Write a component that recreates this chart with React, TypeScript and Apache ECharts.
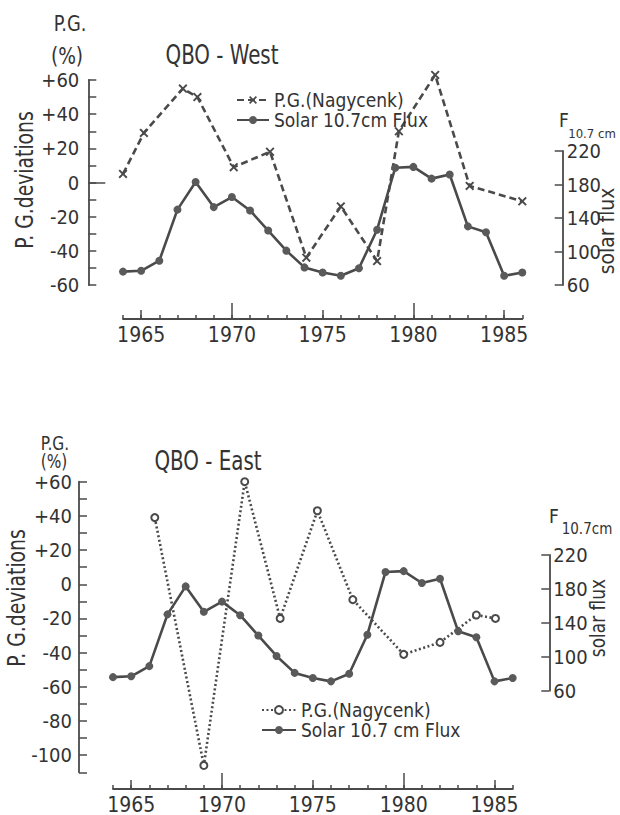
import React, { useEffect, useRef } from "react";
import * as echarts from "echarts";

// ---------- data ----------
const years = [1964, 1965, 1966, 1967, 1968, 1969, 1970, 1971, 1972, 1973, 1974, 1975, 1976, 1977, 1978, 1979, 1980, 1981, 1982, 1983, 1984, 1985, 1986];
const solarFlux = [76, 77, 89, 150, 183, 153, 165, 149, 125, 101, 81, 75, 71, 80, 126, 200, 201, 187, 192, 130, 123, 71, 75];

const westPGYears = [1964.0, 1965.15, 1967.3, 1968.1, 1970.1, 1972.1, 1974.1, 1976.0, 1978.0, 1979.2, 1981.2, 1983.1, 1986.0];
const westPG = [5, 29, 55, 50, 9, 18, -44, -14, -46, 30, 63, -2, -11];

const eastPGYears = [1966.3, 1969.0, 1971.25, 1973.2, 1975.25, 1977.2, 1980.0, 1982.0, 1984.0, 1985.05];
const eastPG = [39, -106, 60, -20, 43, -9, -41, -34, -18, -20];

const minorTickYears = years;
const midTickYears = [1965, 1975, 1985];
const longTickYears = [1970, 1980];
const labelYears = [1965, 1970, 1975, 1980, 1985];

const legendText: Record<string, string> = {
  pgWest: "P.G.(Nagycenk)",
  solarWest: "Solar 10.7cm Flux",
  pgEast: "P.G.(Nagycenk)",
  solarEast: "Solar 10.7 cm Flux",
};

const FONT = "'DejaVu Sans Condensed', 'Liberation Sans Narrow', 'Liberation Sans', sans-serif";
const INK = "#333";
const LINE = "#4a4a4a";
const CROSS = "path://M0,1.5L1.5,0L5,3.5L8.5,0L10,1.5L6.5,5L10,8.5L8.5,10L5,6.5L1.5,10L0,8.5L3.5,5Z";

function xAxes(gridIndex: number, offset: number) {
  const base = { type: "value", gridIndex, min: 1964, max: 1986, position: "bottom", offset, splitLine: { show: false } };
  return [
    {
      ...base,
      axisLine: { show: true, onZero: false, lineStyle: { color: LINE, width: 1.8 } },
      axisTick: { show: true, inside: true, length: 4, customValues: minorTickYears, lineStyle: { color: LINE, width: 1.5 } },
      axisLabel: { show: true, customValues: labelYears, formatter: (v: number) => String(v), margin: 5, fontSize: 21, fontFamily: FONT, color: INK },
    },
    {
      ...base,
      axisLine: { show: false, onZero: false },
      axisTick: { show: true, inside: true, length: 9, customValues: midTickYears, lineStyle: { color: LINE, width: 1.5 } },
      axisLabel: { show: false },
    },
    {
      ...base,
      axisLine: { show: false, onZero: false },
      axisTick: { show: true, inside: true, length: 16, customValues: longTickYears, lineStyle: { color: LINE, width: 1.5 } },
      axisLabel: { show: false },
    },
  ];
}

function hiddenX(gridIndex: number) {
  return { type: "value", gridIndex, min: 1964, max: 1986, show: false, axisLine: { onZero: false } };
}

const pgFormatter = (v: number) => (v % 20 !== 0 ? "" : v > 0 ? "+" + v : String(v));

function txt(text: string, x: number, y: number, size: number, extra: any = {}) {
  return {
    type: "text",
    x,
    y,
    ...extra,
    style: { text, fontSize: size, fontFamily: FONT, fill: INK, align: "center", verticalAlign: "middle" },
  };
}

export default function App() {
  const ref = useRef<HTMLDivElement>(null);
  useEffect(() => {
    if (!ref.current) return;
    const chart = echarts.init(ref.current, undefined, { renderer: "svg" });

    const option: any = {
      animation: false,
      backgroundColor: "#fff",
      grid: [
        { left: 123, right: 97.7, top: 80, height: 205 },
        { left: 123, right: 97.7, top: 151, height: 134 },
        { left: 113, right: 107.3, top: 481.7, height: 290.6 },
        { left: 113, right: 107.3, top: 555, height: 135.7 },
      ],
      xAxis: [...xAxes(0, 34), hiddenX(1), ...xAxes(2, 16.7), hiddenX(3)],
      yAxis: [
        {
          type: "value", gridIndex: 0, min: -60, max: 60, interval: 10, position: "left", offset: 34.7,
          axisLine: { show: true, onZero: false, lineStyle: { color: LINE, width: 1.8 } },
          axisTick: { show: true, inside: true, length: 8, lineStyle: { color: LINE, width: 1.5 } },
          axisLabel: { formatter: pgFormatter, margin: 9, fontSize: 20, fontFamily: FONT, color: INK },
          splitLine: { show: false },
        },
        {
          type: "value", gridIndex: 0, min: -60, max: 60, position: "left", offset: 34.7,
          axisLine: { show: false, onZero: false },
          axisTick: { show: true, inside: true, length: 17, customValues: [0], lineStyle: { color: LINE, width: 1.5 } },
          axisLabel: { show: false },
          splitLine: { show: false },
        },
        {
          type: "value", gridIndex: 1, min: 60, max: 220, interval: 40, position: "right", offset: 40.4,
          axisLine: { show: true, onZero: false, lineStyle: { color: LINE, width: 1.8 } },
          axisTick: { show: true, inside: true, length: 8, lineStyle: { color: LINE, width: 1.5 } },
          axisLabel: { margin: 4, fontSize: 20, fontFamily: FONT, color: INK },
          splitLine: { show: false },
        },
        {
          type: "value", gridIndex: 2, min: -110, max: 60, interval: 10, position: "left", offset: 34,
          axisLine: { show: true, onZero: false, lineStyle: { color: LINE, width: 1.8 } },
          axisTick: { show: true, inside: true, length: 8, lineStyle: { color: LINE, width: 1.5 } },
          axisLabel: { formatter: pgFormatter, margin: 7, fontSize: 20, fontFamily: FONT, color: INK },
          splitLine: { show: false },
        },
        {
          type: "value", gridIndex: 3, min: 60, max: 220, interval: 40, position: "right", offset: 36.6,
          axisLine: { show: true, onZero: false, lineStyle: { color: LINE, width: 1.8 } },
          axisTick: { show: true, inside: true, length: 8, lineStyle: { color: LINE, width: 1.5 } },
          axisLabel: { margin: 4, fontSize: 20, fontFamily: FONT, color: INK },
          splitLine: { show: false },
        },
      ],
      legend: [
        {
          data: ["pgWest", "solarWest"], orient: "vertical", left: 231, top: 85, itemGap: 0,
          itemWidth: 32, itemHeight: 10, formatter: (n: string) => legendText[n],
          textStyle: { fontSize: 19, fontFamily: FONT, color: INK, lineHeight: 20 },
          selectedMode: false,
        },
        {
          data: ["pgEast", "solarEast"], orient: "vertical", left: 256, top: 695, itemGap: 0,
          itemWidth: 34, itemHeight: 10, formatter: (n: string) => legendText[n],
          textStyle: { fontSize: 19, fontFamily: FONT, color: INK, lineHeight: 20 },
          selectedMode: false,
        },
      ],
      series: [
        {
          name: "pgWest", type: "line", xAxisIndex: 0, yAxisIndex: 0, clip: false,
          data: westPGYears.map((x, i) => [x, westPG[i]]),
          symbol: CROSS, symbolSize: 9,
          itemStyle: { color: LINE },
          lineStyle: { color: LINE, width: 2.6, type: [7, 4] },
        },
        {
          name: "solarWest", type: "line", xAxisIndex: 3, yAxisIndex: 2, clip: false,
          data: years.map((x, i) => [x, solarFlux[i]]),
          symbol: "circle", symbolSize: 8,
          itemStyle: { color: "#5a5a5a" },
          lineStyle: { color: LINE, width: 2.6 },
        },
        {
          name: "pgEast", type: "line", xAxisIndex: 4, yAxisIndex: 3, clip: false,
          data: eastPGYears.map((x, i) => [x, eastPG[i]]),
          symbol: "emptyCircle", symbolSize: 7,
          itemStyle: { color: LINE, borderWidth: 1.6 },
          lineStyle: { color: LINE, width: 2.6, type: [2, 2.5] },
        },
        {
          name: "solarEast", type: "line", xAxisIndex: 7, yAxisIndex: 4, clip: false,
          data: years.map((x, i) => [x, solarFlux[i]]),
          symbol: "circle", symbolSize: 8,
          itemStyle: { color: "#5a5a5a" },
          lineStyle: { color: LINE, width: 2.6 },
        },
      ],
      graphic: [
        txt("P.G.", 70, 24, 22, { scaleX: 0.9 }),
        txt("(%)", 67, 56, 23, { scaleX: 0.9 }),
        txt("QBO - West", 222, 55, 26, { scaleX: 0.85 }),
        txt("F", 564, 120, 19),
        txt("10.7 cm", 592, 133, 13),
        txt("solar flux", 606, 231, 22, { rotation: Math.PI / 2, scaleX: 0.95 }),
        txt("P. G.deviations", 24, 180, 24, { rotation: Math.PI / 2, scaleX: 0.87 }),

        txt("P.G.", 55, 443, 19, { scaleX: 0.9 }),
        txt("(%)", 54, 461, 19, { scaleX: 0.9 }),
        txt("QBO - East", 208, 461, 26, { scaleX: 0.85 }),
        txt("F", 554, 516, 19),
        txt("10.7cm", 587, 529, 15),
        txt("solar flux", 598, 618, 21, { rotation: Math.PI / 2, scaleX: 0.9 }),
        txt("P. G.deviations", 16, 598, 24, { rotation: Math.PI / 2, scaleX: 0.87 }),
      ],
    };

    chart.setOption(option);
    return () => chart.dispose();
  }, []);

  return <div ref={ref} style={{ position: "fixed", left: 0, top: 0, width: 620, height: 815 }} />;
}
